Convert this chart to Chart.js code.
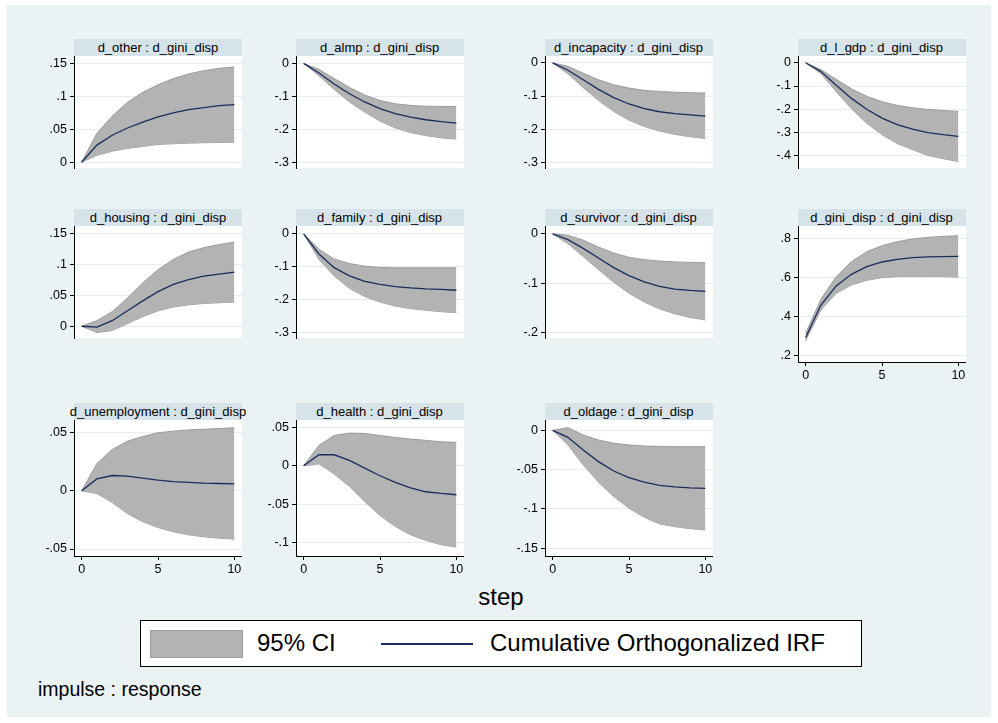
<!DOCTYPE html>
<html>
<head>
<meta charset="utf-8">
<script src="https://cdn.jsdelivr.net/npm/chart.js@4"></script>
<style>
  body { margin: 0; background: #fff; font-family: "Liberation Sans", Arial, sans-serif; }
  #frame { position: absolute; left: 7px; top: 5px; width: 984px; height: 712px; background: #eaf2f3; }
  .strip { position: absolute; height: 17px; background: #d6e3e9; display: flex; justify-content: center;
           align-items: center; font-size: 13px; white-space: nowrap; color: #000; }
  canvas { position: absolute; }
  .txt { position: absolute; white-space: nowrap; color: #000; }
  #legend { position: absolute; left: 140px; top: 620px; width: 720px; height: 45px; background: #fff; border: 1px solid #000; }
  #swatch { position: absolute; left: 9px; top: 9px; width: 91px; height: 26px; background: #b3b3b3; border: 1px solid #9c9c9c; }
  #lineSample { position: absolute; left: 240px; top: 22px; width: 92px; height: 2px; background: #1a2c5b; }
</style>
</head>
<body>
<div id="frame"></div>
<div class="txt" style="left:0;width:1002px;text-align:center;top:583px;font-size:24px;">step</div>
<div id="legend">
  <div id="swatch"></div>
  <div class="txt" style="left:116px;top:8px;font-size:24px;">95% CI</div>
  <div id="lineSample"></div>
  <div class="txt" style="left:349px;top:8px;font-size:24px;">Cumulative Orthogonalized IRF</div>
</div>
<div class="txt" style="left:38px;top:678px;font-size:19.5px;">impulse : response</div>

<script>
// steps
const steps = [0, 1, 2, 3, 4, 5, 6, 7, 8, 9, 10];
const xTicks = [0, 5, 10];

// d_other
const irfOther = [0, .026, .041, .052, .061, .069, .075, .080, .083, .086, .0875];
const loOther  = [0, .0104, .0167, .021, .024, .027, .028, .029, .0296, .030, .0304];
const hiOther  = [0, .044, .070, .091, .106, .1175, .127, .134, .139, .1425, .1446];
const yTicksOther = [0, .05, .1, .15];

// d_almp
const irfAlmp = [0, -.029, -.0625, -.092, -.117, -.1375, -.1525, -.163, -.171, -.1767, -.181];
const loAlmp  = [0, -.0375, -.079, -.117, -.148, -.175, -.196, -.21, -.219, -.226, -.23];
const hiAlmp  = [0, -.018, -.046, -.073, -.096, -.1125, -.1225, -.1275, -.13, -.1305, -.131];
const yTicksAlmp = [0, -.1, -.2, -.3];

// d_incapacity
const irfIncap = [0, -.022, -.051, -.08, -.105, -.124, -.138, -.1475, -.153, -.157, -.161];
const loIncap  = [0, -.033, -.0746, -.1135, -.1467, -.173, -.192, -.206, -.216, -.223, -.228];
const hiIncap  = [0, -.01, -.031, -.051, -.066, -.076, -.083, -.086, -.0887, -.09, -.091];
const yTicksIncap = [0, -.1, -.2, -.3];

// d_l_gdp
const irfGdp = [0, -.038, -.097, -.153, -.2, -.238, -.2655, -.2855, -.2997, -.309, -.316];
const loGdp  = [0, -.047, -.124, -.197, -.26, -.309, -.347, -.373, -.398, -.412, -.424];
const hiGdp  = [0, -.0295, -.071, -.112, -.144, -.1676, -.183, -.1935, -.2006, -.205, -.209];
const yTicksGdp = [0, -.1, -.2, -.3, -.4];

// d_housing
const irfHousing = [0, -.0013, .009, .025, .041, .056, .0675, .0755, .081, .0843, .0874];
const loHousing  = [0, -.0102, -.007, .0044, .0155, .025, .031, .0346, .0368, .038, .039];
const hiHousing  = [0, .009, .0235, .0457, .070, .0914, .108, .12, .127, .132, .136];
const yTicksHousing = [0, .05, .1, .15];

// d_family
const irfFamily = [0, -.061, -.1025, -.1275, -.144, -.153, -.16, -.164, -.1667, -.168, -.171];
const loFamily  = [0, -.0775, -.1275, -.165, -.19, -.2067, -.219, -.2267, -.2317, -.236, -.239];
const hiFamily  = [0, -.0467, -.076, -.09, -.098, -.1017, -.103, -.103, -.103, -.103, -.103];
const yTicksFamily = [0, -.1, -.2, -.3];

// d_survivor
const irfSurv = [0, -.0117, -.0296, -.049, -.0687, -.085, -.0978, -.1067, -.1123, -.115, -.1168];
const loSurv  = [0, -.02, -.046, -.0726, -.0983, -.1207, -.1385, -.1525, -.1626, -.17, -.175];
const hiSurv  = [0, -.0028, -.0128, -.0268, -.039, -.0475, -.0525, -.0553, -.057, -.058, -.0587];
const yTicksSurv = [0, -.1, -.2];

// d_gini_disp
const irfGini = [.2935, .46, .557, .6165, .6555, .6793, .693, .7014, .705, .7065, .708];
const loGini  = [.2765, .4345, .5195, .562, .5858, .5994, .6045, .606, .606, .605, .602];
const hiGini  = [.3155, .489, .6045, .681, .732, .7626, .783, .7966, .805, .810, .8136];
const yTicksGini = [.2, .4, .6, .8];

// d_unemployment
const irfUnemp = [0, .0103, .0132, .0126, .0109, .0092, .008, .0072, .0066, .0063, .006];
const loUnemp  = [0, -.0023, -.01, -.0195, -.0266, -.0315, -.0352, -.0378, -.0395, -.0407, -.0415];
const hiUnemp  = [0, .0235, .0355, .0427, .0467, .0499, .0513, .0524, .053, .0536, .0542];
const yTicksUnemp = [-.05, 0, .05];

// d_health
const irfHealth = [0, .0143, .0143, .0069, -.003, -.013, -.0217, -.0286, -.0338, -.036, -.0377];
const loHealth  = [0, .0026, -.0108, -.0269, -.0464, -.0646, -.0789, -.0897, -.097, -.1027, -.1058];
const hiHealth  = [0, .0264, .0394, .0425, .042, .0394, .0368, .0347, .033, .0312, .0303];
const yTicksHealth = [.05, 0, -.05, -.1];

// d_oldage
const irfOld = [0, -.0089, -.025, -.0398, -.0517, -.0602, -.066, -.0699, -.072, -.0733, -.0737];
const loOld  = [0, -.0186, -.044, -.066, -.0843, -.099, -.1106, -.119, -.1225, -.125, -.1267];
const hiOld  = [0, .0034, -.0059, -.0123, -.0165, -.0186, -.02, -.0204, -.0208, -.0208, -.0208];
const yTicksOld = [0, -.05, -.1, -.15];

const response = 'd_gini_disp';

// layout of the grid
const colX = [74, 295.5, 544.5, 797.5];
const plotW = 168;
const plotH = 136;
const rowTop = [56, 226, 420];
const labelW = 40;

const panels = [
  { name: 'd_other', irf: irfOther, lo: loOther, hi: hiOther, ticks: yTicksOther, row: 0, col: 0, yMin: -0.00875, yMax: 0.16125 },
  { name: 'd_almp', irf: irfAlmp, lo: loAlmp, hi: hiAlmp, ticks: yTicksAlmp, row: 0, col: 1, yMin: -0.3175, yMax: 0.0225 },
  { name: 'd_incapacity', irf: irfIncap, lo: loIncap, hi: hiIncap, ticks: yTicksIncap, row: 0, col: 2, yMin: -0.3175, yMax: 0.021 },
  { name: 'd_l_gdp', irf: irfGdp, lo: loGdp, hi: hiGdp, ticks: yTicksGdp, row: 0, col: 3, yMin: -0.452, yMax: 0.029 },
  { name: 'd_housing', irf: irfHousing, lo: loHousing, hi: hiHousing, ticks: yTicksHousing, row: 1, col: 0, yMin: -0.019, yMax: 0.162 },
  { name: 'd_family', irf: irfFamily, lo: loFamily, hi: hiFamily, ticks: yTicksFamily, row: 1, col: 1, yMin: -0.3158, yMax: 0.024 },
  { name: 'd_survivor', irf: irfSurv, lo: loSurv, hi: hiSurv, ticks: yTicksSurv, row: 1, col: 2, yMin: -0.2117, yMax: 0.016 },
  { name: 'd_gini_disp', irf: irfGini, lo: loGini, hi: hiGini, ticks: yTicksGini, row: 1, col: 3, yMin: 0.169, yMax: 0.863, xAxis: true },
  { name: 'd_unemployment', irf: irfUnemp, lo: loUnemp, hi: hiUnemp, ticks: yTicksUnemp, row: 2, col: 0, yMin: -0.056, yMax: 0.0609, xAxis: true },
  { name: 'd_health', irf: irfHealth, lo: loHealth, hi: hiHealth, ticks: yTicksHealth, row: 2, col: 1, yMin: -0.1173, yMax: 0.0595, xAxis: true },
  { name: 'd_oldage', irf: irfOld, lo: loOld, hi: hiOld, ticks: yTicksOld, row: 2, col: 2, yMin: -0.1598, yMax: 0.0131, xAxis: true }
];

// Stata style labels: .15, -.1, 0
function fmt(v) {
  if (Math.abs(v) < 1e-9) return '0';
  return String(+v.toFixed(3)).replace(/^(-?)0\./, '$1.');
}

const plotBg = {
  id: 'plotBg',
  beforeDraw(chart) {
    const { ctx, chartArea: a } = chart;
    ctx.save();
    ctx.fillStyle = '#fff';
    ctx.fillRect(a.left, a.top, a.right - a.left, a.bottom - a.top);
    ctx.restore();
  }
};

const tickFont = { family: '"Liberation Sans", Arial, sans-serif', size: 12.5 };

panels.forEach(p => {
  const left = colX[p.col] - labelW;
  const top = rowTop[p.row];
  const w = labelW + plotW;
  const h = plotH + (p.xAxis ? 24 : 0);

  const strip = document.createElement('div');
  strip.className = 'strip';
  strip.style.left = colX[p.col] + 'px';
  strip.style.top = (top - 17) + 'px';
  strip.style.width = plotW + 'px';
  strip.textContent = p.name + ' : ' + response;
  document.body.appendChild(strip);

  const c = document.createElement('canvas');
  c.width = w; c.height = h;
  c.style.left = left + 'px';
  c.style.top = top + 'px';
  c.style.width = w + 'px';
  c.style.height = h + 'px';
  document.body.appendChild(c);

  // dataset 0 is drawn last (on top), so the IRF line goes first
  new Chart(c, {
    type: 'line',
    data: {
      datasets: [
        { data: steps.map((x, i) => ({ x, y: p.irf[i] })), borderColor: '#1a2c5b', borderWidth: 1.3,
          fill: false, pointRadius: 0, tension: 0 },
        { data: steps.map((x, i) => ({ x, y: p.hi[i] })), borderColor: '#9c9c9c', borderWidth: 1,
          backgroundColor: '#b3b3b3', fill: '+1', pointRadius: 0, tension: 0 },
        { data: steps.map((x, i) => ({ x, y: p.lo[i] })), borderColor: '#9c9c9c', borderWidth: 1,
          fill: false, pointRadius: 0, tension: 0 }
      ]
    },
    options: {
      responsive: false,
      animation: false,
      events: [],
      layout: { padding: 0, autoPadding: false },
      plugins: { legend: { display: false }, tooltip: { enabled: false } },
      scales: {
        x: {
          type: 'linear', min: -0.5, max: 10.5, display: !!p.xAxis,
          afterBuildTicks: s => { s.ticks = xTicks.map(v => ({ value: v })); },
          afterFit: s => { s.height = 24; s.paddingLeft = 0; s.paddingRight = 0; },
          grid: { drawOnChartArea: false, tickColor: '#000', tickLength: 4 },
          border: { color: '#000', width: 1 },
          ticks: { font: tickFont, color: '#000', padding: 2, maxRotation: 0 }
        },
        y: {
          min: p.yMin, max: p.yMax,
          afterBuildTicks: s => { s.ticks = p.ticks.map(v => ({ value: v })); },
          afterFit: s => { s.width = labelW; s.paddingTop = 0; s.paddingBottom = 0; },
          grid: { color: '#e4edf0', tickColor: '#000', tickLength: 4 },
          border: { color: '#000', width: 1 },
          ticks: { font: tickFont, color: '#000', padding: 3, callback: v => fmt(v) }
        }
      }
    },
    plugins: [plotBg]
  });
});
</script>
</body>
</html>
